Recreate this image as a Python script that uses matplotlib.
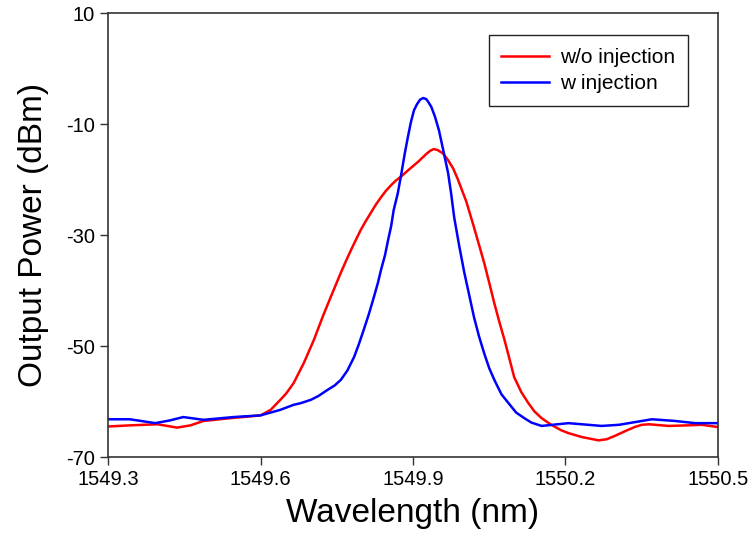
import matplotlib
matplotlib.use('Agg')
import matplotlib.pyplot as plt

plt.rcParams['font.family'] = ['Liberation Sans', 'DejaVu Sans']
plt.rcParams['axes.unicode_minus'] = False

# w/o injection (red)
wl_free = [1549.300, 1549.343, 1549.397, 1549.436, 1549.462, 1549.488, 1549.541,
           1549.600, 1549.620, 1549.639, 1549.651, 1549.665, 1549.685, 1549.695,
           1549.705, 1549.722, 1549.730, 1549.738, 1549.758, 1549.768, 1549.778,
           1549.788, 1549.797, 1549.807, 1549.817, 1549.827, 1549.837, 1549.847,
           1549.857, 1549.866, 1549.876, 1549.892, 1549.910, 1549.926, 1549.934,
           1549.941, 1549.949, 1549.959, 1549.969, 1549.979, 1549.988, 1550.005,
           1550.020, 1550.030, 1550.040, 1550.050, 1550.060, 1550.070, 1550.080,
           1550.090, 1550.099, 1550.113, 1550.127, 1550.139, 1550.153, 1550.172,
           1550.192, 1550.206, 1550.232, 1550.265, 1550.281, 1550.297, 1550.316,
           1550.336, 1550.350, 1550.364, 1550.403, 1550.439, 1550.468, 1550.500]
p_free = [-64.5, -64.3, -64.1, -64.7, -64.3, -63.5, -63.0,
          -62.5, -61.5, -59.7, -58.5, -56.7, -53.1, -51.0,
          -48.9, -44.8, -43.0, -41.2, -36.8, -34.7, -32.7,
          -30.8, -29.1, -27.5, -26.0, -24.5, -23.2, -22.0,
          -21.0, -20.2, -19.5, -18.2, -16.8, -15.4, -14.8,
          -14.5, -14.7, -15.3, -16.5, -18.0, -19.9, -24.0,
          -28.6, -31.8, -35.0, -38.6, -42.3, -45.7, -48.9,
          -52.4, -55.6, -58.3, -60.3, -61.8, -63.0, -64.2,
          -65.2, -65.7, -66.4, -67.0, -66.8, -66.2, -65.4,
          -64.6, -64.2, -64.1, -64.4, -64.3, -64.2, -64.6]

# w injection (blue)
wl_inj = [1549.300, 1549.343, 1549.393, 1549.422, 1549.448, 1549.488, 1549.547,
          1549.600, 1549.639, 1549.665, 1549.679, 1549.699, 1549.714, 1549.732,
          1549.746, 1549.758, 1549.771, 1549.784, 1549.793, 1549.803, 1549.813,
          1549.823, 1549.831, 1549.837, 1549.845, 1549.851, 1549.857, 1549.862,
          1549.870, 1549.876, 1549.884, 1549.890, 1549.896, 1549.902, 1549.908,
          1549.914, 1549.920, 1549.926, 1549.930, 1549.936, 1549.943, 1549.951,
          1549.959, 1549.969, 1549.975, 1549.981, 1549.991, 1550.001, 1550.011,
          1550.020, 1550.030, 1550.040, 1550.050, 1550.060, 1550.074, 1550.088,
          1550.103, 1550.119, 1550.133, 1550.153, 1550.206, 1550.271, 1550.305,
          1550.370, 1550.415, 1550.455, 1550.500]
p_inj = [-63.2, -63.2, -63.9, -63.4, -62.8, -63.3, -62.8,
         -62.5, -61.5, -60.6, -60.3, -59.7, -59.0, -57.9,
         -57.1, -56.1, -54.4, -52.0, -49.8, -47.1, -44.3,
         -41.2, -38.6, -36.3, -33.6, -30.9, -28.4, -25.5,
         -22.5, -19.5, -15.2, -12.3, -9.6, -7.5, -6.4,
         -5.6, -5.3, -5.5, -6.0, -6.9, -8.6, -11.1,
         -14.5, -18.8, -22.5, -26.8, -32.0, -36.8, -41.0,
         -44.8, -48.3, -51.3, -54.0, -56.1, -58.7, -60.3,
         -62.0, -63.0, -63.8, -64.4, -63.9, -64.4, -64.2,
         -63.2, -63.5, -63.9, -63.9]

x_ticks = [1549.3, 1549.6, 1549.9, 1550.2, 1550.5]
y_ticks = [-70, -50, -30, -10, 10]

fig = plt.figure(figsize=(7.49, 5.46), dpi=100)
ax = fig.add_axes([0.1442, 0.163, 0.8144, 0.813])

ax.plot(wl_free, p_free, color='#ff0000', lw=1.8, solid_joinstyle='round', label='w/o injection')
ax.plot(wl_inj, p_inj, color='#0000ff', lw=1.8, solid_joinstyle='round', label='w injection')

ax.set_xlim(1549.3, 1550.5)
ax.set_ylim(-70, 10)
ax.set_xticks(x_ticks)
ax.set_xticklabels([f'{t:.1f}' for t in x_ticks])
ax.set_yticks(y_ticks)

ax.tick_params(axis='both', labelsize=14.5, length=6, width=1, direction='out', color='#333333')
for s in ['top', 'right', 'left', 'bottom']:
    ax.spines[s].set_linewidth(1.2)
    ax.spines[s].set_color('#333333')

ax.set_xlabel('Wavelength (nm)', fontsize=24, labelpad=6)
ax.set_ylabel('Output Power (dBm)', fontsize=24, labelpad=12)

leg = ax.legend(loc='upper right', bbox_to_anchor=(0.951, 0.950), borderaxespad=0, fontsize=15,
                fancybox=False, frameon=True, edgecolor='#222222', framealpha=1,
                handlelength=2.3, handletextpad=0.55, borderpad=0.6, labelspacing=0.35)
leg.get_frame().set_linewidth(1.0)

plt.savefig('out.png', dpi=100)
